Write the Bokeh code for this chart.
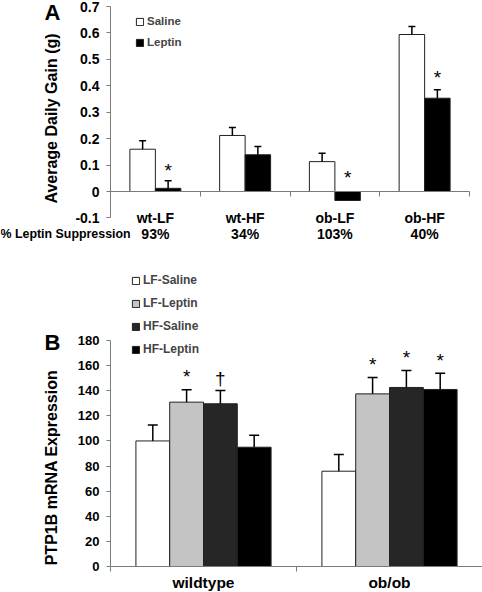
import math
from bokeh.plotting import figure
from bokeh.layouts import column
from bokeh.models import (Range1d, FixedTicker, Legend, LegendItem, Label, Whisker, TeeHead,
                          ColumnDataSource, LinearAxis, GlobalInlineStyleSheet, PrintfTickFormatter)
from bokeh.core.properties import value
from bokeh.embed import file_html
from bokeh.resources import INLINE

FONT = "Liberation Sans"

# ---------------- Panel A data ----------------
a_categories = ["wt-LF", "wt-HF", "ob-LF", "ob-HF"]
a_suppression = ["93%", "34%", "103%", "40%"]
a_series = ["Saline", "Leptin"]
a_saline = [0.160, 0.212, 0.113, 0.594]
a_saline_sem = [0.032, 0.030, 0.032, 0.030]
a_leptin = [0.012, 0.139, -0.034, 0.353]
a_leptin_sem = [0.029, 0.031, None, 0.032]
a_leptin_sig = ["*", "", "*", "*"]
a_leptin_sig_y = [0.095, None, 0.067, 0.445]
a_yticks = [-0.1, 0, 0.1, 0.2, 0.3, 0.4, 0.5, 0.6, 0.7]
a_ytick_labels = ["-0.1", "0", "0.1", "0.2", "0.3", "0.4", "0.5", "0.6", "0.7"]
a_colors = ["#ffffff", "#000000"]
a_ylabel = "Average Daily Gain (g)"
a_rowlabel = "% Leptin Suppression"

# ---------------- Panel B data ----------------
b_categories = ["wildtype", "ob/ob"]
b_series = ["LF-Saline", "LF-Leptin", "HF-Saline", "HF-Leptin"]
b_lf_saline = [100.0, 75.9]
b_lf_leptin = [130.9, 137.5]
b_hf_saline = [129.6, 142.6]
b_hf_leptin = [95.0, 141.0]
b_lf_saline_sem = [12.6, 13.3]
b_lf_leptin_sem = [9.8, 13.0]
b_hf_saline_sem = [10.6, 13.5]
b_hf_leptin_sem = [9.6, 13.0]
b_lf_saline_sig = ["", ""]
b_lf_leptin_sig = ["*", "*"]
b_hf_saline_sig = ["\u2020", "*"]
b_hf_leptin_sig = ["", "*"]
b_lf_saline_sig_y = [None, None]
b_lf_leptin_sig_y = [154.3, 163.8]
b_hf_saline_sig_y = [150.8, 169.4]
b_hf_leptin_sig_y = [None, 167.2]
b_yticks = [0, 20, 40, 60, 80, 100, 120, 140, 160, 180]
b_colors = ["#ffffff", "#c4c4c4", "#262626", "#000000"]
b_ylabel = "PTP1B mRNA Expression"

AXIS_COLOR = "#7a7a7a"
SIG_OFFSET = {"*": 4, "\u2020": 1}


def make_fig(w, h, x0_px, x1_px, n_cat, y_top_px, y_top_val, y0_px):
    """Frame covers the whole figure; ranges chosen so the plot area sits where it should."""
    px_x = (x1_px - x0_px) / n_cat
    px_y = (y0_px - y_top_px) / y_top_val
    xr = Range1d(-x0_px / px_x, n_cat + (w - x1_px) / px_x)
    yr = Range1d(-(h - y0_px) / px_y, y_top_val + y_top_px / px_y)
    p = figure(width=w, height=h, x_range=xr, y_range=yr, output_backend="svg",
               toolbar_location=None, min_border=0, min_border_left=0,
               min_border_right=0, min_border_top=0, min_border_bottom=0,
               x_axis_location=None, y_axis_location=None)
    p.outline_line_color = None
    p.xgrid.visible = False
    p.ygrid.visible = False
    p.background_fill_color = "white"
    p.border_fill_color = "white"
    return p


def add_yaxis(p, ticks, size, overrides=None):
    ax = LinearAxis(fixed_location=0, ticker=FixedTicker(ticks=ticks),
                    bounds=(ticks[0], ticks[-1]))
    if overrides is not None:
        ax.formatter = PrintfTickFormatter(format="%g")
        ax.major_label_overrides = overrides
    ax.axis_line_color = AXIS_COLOR
    ax.major_tick_line_color = AXIS_COLOR
    ax.major_tick_in = 0
    ax.major_tick_out = 4
    ax.minor_tick_line_color = None
    ax.major_label_standoff = 7
    ax.major_label_text_font = FONT
    ax.major_label_text_font_style = "bold"
    ax.major_label_text_font_size = size
    ax.major_label_text_color = "black"
    p.add_layout(ax, "left")
    return ax


def add_bars(p, cat_count, series_values, series_sem, colors, width, head_size):
    n = len(series_values)
    renderers = []
    for j, (vals, sems) in enumerate(zip(series_values, series_sem)):
        off = (j - (n - 1) / 2) * width
        xs = [i + 0.5 + off for i in range(cat_count)]
        r = p.vbar(x=xs, top=vals, bottom=0, width=width, fill_color=colors[j],
                   line_color="#222222", line_width=1)
        renderers.append(r)
        base, lo, up = [], [], []
        for x, v, s in zip(xs, vals, sems):
            if s is None:
                continue
            base.append(x)
            lo.append(v)
            up.append(v + s)
        src = ColumnDataSource(dict(base=base, lower=lo, upper=up))
        w = Whisker(source=src, base="base", lower="lower", upper="upper",
                    line_color="black", line_width=1.5, lower_head=None,
                    upper_head=TeeHead(size=head_size, line_color="black", line_width=1.5),
                    level="glyph")
        p.add_layout(w)
    return renderers


def add_sig(p, cat_count, n_series, width, sig_lists, sig_y_lists):
    xs, ys, txt, offs = [], [], [], []
    for j, (sigs, sys) in enumerate(zip(sig_lists, sig_y_lists)):
        off = (j - (n_series - 1) / 2) * width
        for i in range(cat_count):
            if sigs[i]:
                xs.append(i + 0.5 + off)
                ys.append(sys[i])
                txt.append(sigs[i])
                offs.append(SIG_OFFSET[sigs[i]])
    src = ColumnDataSource(dict(x=xs, y=ys, text=txt, yo=offs))
    p.text(x="x", y="y", text="text", y_offset="yo", source=src, text_font=value(FONT),
           text_font_size="19px", text_align="center", text_baseline="middle",
           text_color="black")


def add_label(p, x, y, text, size, angle=0.0, align="center"):
    p.add_layout(Label(x=x, y=y, x_units="screen", y_units="screen", text=text,
                       angle=angle, text_font=FONT, text_font_style="bold",
                       text_font_size=size, text_align=align, text_baseline="middle",
                       text_color="black"))


# ================= Figure A =================
A_W, A_H = 482, 255
pA = make_fig(A_W, A_H, 110, 469, len(a_categories), 6, a_yticks[-1], 191)

add_yaxis(pA, a_yticks, "14px", dict(zip(a_yticks, a_ytick_labels)))

n_a = len(a_categories)
zero_axis = LinearAxis(fixed_location=0,
                       ticker=FixedTicker(ticks=[], minor_ticks=list(range(n_a + 1))),
                       bounds=(0, n_a), major_tick_in=0, major_tick_out=0,
                       minor_tick_in=0, minor_tick_out=5,
                       axis_line_color=AXIS_COLOR, minor_tick_line_color=AXIS_COLOR,
                       major_tick_line_color=None)
pA.add_layout(zero_axis, "below")

a_w = 0.284
ra = add_bars(pA, n_a, [a_saline, a_leptin], [a_saline_sem, a_leptin_sem],
              a_colors, a_w, 7)
add_sig(pA, n_a, 2, a_w, [[""] * n_a, a_leptin_sig], [[None] * n_a, a_leptin_sig_y])

a_cx = [i + 0.5 for i in range(n_a)]
pA.text(x=a_cx, y=[a_yticks[0]] * n_a, text=a_categories, text_font=value(FONT),
        text_font_style="bold", text_font_size="14px", text_align="center",
        text_baseline="middle", text_color="black")
pA.text(x=a_cx, y=[a_yticks[0]] * n_a, text=a_suppression, y_offset=16,
        text_font=value(FONT), text_font_style="bold", text_font_size="14px",
        text_align="center", text_baseline="middle", text_color="black")

legA = Legend(items=[LegendItem(label=s, renderers=[r]) for s, r in zip(a_series, ra)],
              location=(135, A_H - 48), orientation="vertical",
              glyph_width=9, glyph_height=9, label_height=9, label_standoff=3,
              spacing=9, padding=0, margin=0, border_line_alpha=0,
              background_fill_alpha=0, label_text_font=FONT,
              label_text_font_style="bold", label_text_font_size="11.5px")
pA.add_layout(legA)

add_label(pA, 52, A_H - 12, "A", "22px")
add_label(pA, 51, A_H - 118, a_ylabel, "16px", angle=math.pi / 2)
add_label(pA, 0, A_H - 233, a_rowlabel, "12.4px", align="left")

# ================= Figure B =================
B_W, B_H = 482, 337
n_b = len(b_categories)
pB = make_fig(B_W, B_H, 110, 482, n_b, 85, b_yticks[-1], 311)

add_yaxis(pB, b_yticks, "13px")

b_cx = [i + 0.5 for i in range(n_b)]
xb = LinearAxis(fixed_location=0,
                ticker=FixedTicker(ticks=b_cx, minor_ticks=list(range(n_b + 1))),
                bounds=(0, n_b))
xb.major_label_overrides = dict(zip(b_cx, b_categories))
xb.major_tick_in = 0
xb.major_tick_out = 0
xb.minor_tick_in = 0
xb.minor_tick_out = 5
xb.axis_line_color = AXIS_COLOR
xb.minor_tick_line_color = AXIS_COLOR
xb.major_tick_line_color = None
xb.major_label_standoff = 2
xb.major_label_text_font = FONT
xb.major_label_text_font_style = "bold"
xb.major_label_text_font_size = "15.5px"
xb.major_label_text_color = "black"
pB.add_layout(xb, "below")

b_w = 0.1817
rb = add_bars(pB, n_b, [b_lf_saline, b_lf_leptin, b_hf_saline, b_hf_leptin],
              [b_lf_saline_sem, b_lf_leptin_sem, b_hf_saline_sem, b_hf_leptin_sem],
              b_colors, b_w, 10)
add_sig(pB, n_b, 4, b_w,
        [b_lf_saline_sig, b_lf_leptin_sig, b_hf_saline_sig, b_hf_leptin_sig],
        [b_lf_saline_sig_y, b_lf_leptin_sig_y, b_hf_saline_sig_y, b_hf_leptin_sig_y])

legB = Legend(items=[LegendItem(label=s, renderers=[r]) for s, r in zip(b_series, rb)],
              location=(131, B_H - 101), orientation="vertical",
              glyph_width=9, glyph_height=9, label_height=9, label_standoff=3,
              spacing=9, padding=0, margin=0, border_line_alpha=0,
              background_fill_alpha=0, label_text_font=FONT,
              label_text_font_style="bold", label_text_font_size="12px")
pB.add_layout(legB)

add_label(pB, 52, B_H - 87, "B", "22px")
add_label(pB, 51, B_H - 212, b_ylabel, "16px", angle=math.pi / 2)

layout = column(pA, pB, spacing=0, stylesheets=[GlobalInlineStyleSheet(
    css="html, body { margin: 0 !important; padding: 0; overflow: hidden; }")])

open("out.html", "w").write(file_html(layout, INLINE))
